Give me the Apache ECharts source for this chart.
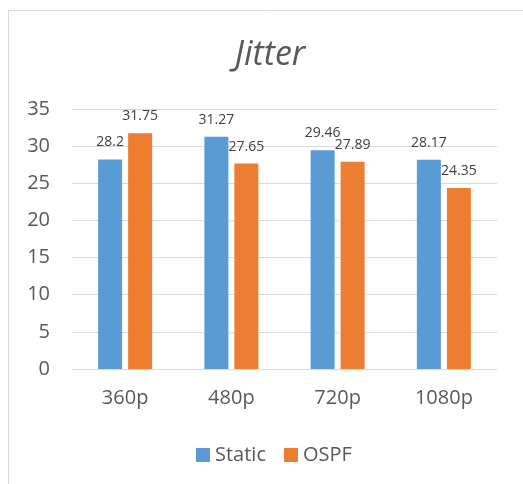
<!DOCTYPE html>
<html><head><meta charset="utf-8">
<script src="https://cdn.jsdelivr.net/npm/echarts@6/dist/echarts.min.js"></script>
<style>html,body{margin:0;padding:0;background:#fff}#c{width:523px;height:484px}</style>
</head><body><div id="c"></div>
<script>
const categories = ['360p', '480p', '720p', '1080p'];
const staticValues = [28.2, 31.27, 29.46, 28.17];
const ospfValues = [31.75, 27.65, 27.89, 24.35];
const yTicks = [0, 5, 10, 15, 20, 25, 30, 35];

const font = '"Open Sans", sans-serif';
const chart = echarts.init(document.getElementById('c'), null, {renderer: 'canvas'});
const labelCfg = {show: true, position: 'top', distance: 10, color: '#404040', fontSize: 14, fontFamily: font};
chart.setOption({
  animation: false,
  backgroundColor: '#fff',
  graphic: [{type: 'rect', shape: {x: 8.5, y: 10.5, width: 530, height: 490}, style: {fill: 'none', stroke: '#d9d9d9', lineWidth: 1}}],
  title: {text: 'Jitter', left: 265, top: 33, textAlign: 'center',
    textStyle: {fontFamily: font, fontStyle: 'italic', fontWeight: 'normal', fontSize: 34, color: '#595959'}},
  legend: {top: 440, left: 191, itemWidth: 14, itemHeight: 14, itemGap: 18, icon: 'rect',
    textStyle: {fontFamily: font, fontSize: 20, color: '#595959'}, data: ['Static', 'OSPF']},
  grid: {left: 72, right: 26, top: 109, bottom: 115, containLabel: false},
  xAxis: {type: 'category', data: categories,
    axisLine: {lineStyle: {color: '#d9d9d9'}}, axisTick: {show: false},
    axisLabel: {fontFamily: font, fontSize: 20, color: '#595959', margin: 19}},
  yAxis: {type: 'value', min: yTicks[0], max: yTicks[yTicks.length - 1], interval: 5,
    axisLine: {show: false}, axisTick: {show: false},
    splitLine: {lineStyle: {color: '#d9d9d9'}},
    axisLabel: {fontFamily: font, fontSize: 20, color: '#595959', margin: 22}},
  series: [
    {name: 'Static', type: 'bar', data: staticValues, barWidth: 24, barGap: '25%', itemStyle: {color: '#5b9bd5'}, label: labelCfg},
    {name: 'OSPF', type: 'bar', data: ospfValues, barWidth: 24, itemStyle: {color: '#ed7d31'}, label: labelCfg}
  ]
});
</script></body></html>
